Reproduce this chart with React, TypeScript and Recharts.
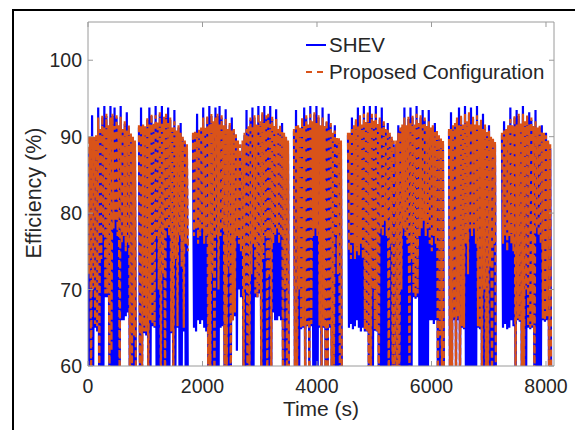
import React from 'react';
import { LineChart, Line, XAxis, YAxis, ReferenceLine } from 'recharts';

// Drive-cycle blocks (seconds)
const blockStart = [0, 890, 1834, 2700, 3598, 4541, 5385, 6306, 7231];
const blockEnd = [856, 1764, 2690, 3528, 4454, 5375, 6236, 7144, 8110];
// trace breaks (white gap) after these blocks
const gapAfter = [true, true, false, true, true, false, true, true, false];

const xTicks = [0, 2000, 4000, 6000, 8000];
const yTicks = [60, 70, 80, 90, 100];

// upper envelope of each oscillation, 24 per block
const propPeak = [
  90, 90, 90, 90, 90.2, 92.5, 91, 92.8, 91.2, 93, 91.5, 92.5, 93, 91.4, 92.8, 91.5, 92.6, 91, 92, 90.8, 91.5, 90.5, 90, 89.5,
  91.5, 91.5, 91.6, 91.4, 92.5, 91.6, 93, 91.8, 92.8, 92, 93.2, 91.8, 92.6, 93, 91.8, 92.5, 91.2, 92, 90.8, 91.5, 90.5, 90, 89.5, 89,
  90.5, 90.8, 90.5, 91, 91.2, 92.5, 91.3, 92.8, 91.6, 93, 92, 92.5, 93, 91.6, 92.8, 91.5, 92.3, 91, 91.8, 90.8, 91, 90.3, 89.5, 89,
  89.5, 90.5, 91, 91.5, 92.5, 91.4, 92.8, 91.6, 93, 92, 93.2, 91.8, 92.8, 93, 91.7, 92.6, 91.5, 92.3, 91, 91.5, 90.6, 90.5, 90, 89.5,
  91, 91.4, 91.5, 91.2, 92.5, 91.4, 92.8, 91.6, 93, 92, 93.2, 91.8, 92.8, 91.5, 92.5, 91.4, 92.2, 91, 91.8, 90.6, 90.8, 90, 89.8, 89.5,
  90.5, 90.5, 91, 91.5, 92.3, 91.4, 92.8, 91.6, 93, 92, 93.2, 91.8, 93, 92.2, 93, 91.8, 92.5, 91.3, 92, 91, 91, 90.5, 90, 89.5,
  89.5, 90.5, 91.2, 91.6, 92.5, 91.5, 92.6, 91.8, 92.8, 91.6, 93, 91.8, 92.8, 91.6, 92.5, 91.4, 92, 91.2, 91.5, 90.6, 90.8, 90.2, 89.8, 89.5,
  91, 91, 91.5, 91.8, 92.5, 91.5, 92.8, 91.6, 93, 92, 93.2, 91.8, 92.6, 91.6, 92.8, 91.5, 92.2, 91, 91.6, 90.6, 90.8, 90, 89.8, 89.3,
  90.5, 90.8, 91, 91.5, 92.3, 91.5, 92.8, 91.6, 93, 91.8, 93, 92, 92.8, 91.6, 92.5, 91.4, 92, 91.2, 91.5, 90.6, 90.5, 90.2, 89.5, 89,
];
const shevPeak = [
  88.5, 89.5, 92.8, 89.7, 89.9, 93.8, 90.7, 92.5, 94, 92.7, 91.2, 94, 92.7, 93.8, 92.5, 91.2, 94, 90.7, 91.7, 93.2, 91.2, 90.2, 89.7, 89,
  91.2, 93.8, 91.3, 91.1, 92.2, 93.8, 92.7, 91.5, 94, 91.7, 92.9, 94, 92.3, 92.7, 93.8, 92.2, 90.9, 93.5, 90.5, 91.2, 91.8, 89.7, 89.2, 88.5,
  90.2, 90.5, 93, 90.7, 90.9, 93.8, 91, 92.5, 94, 92.7, 91.7, 93.8, 92.7, 94, 92.5, 91.2, 93.6, 90.7, 91.5, 92.5, 90.7, 90, 88.5, 87.5,
  89, 90.2, 93.5, 91.2, 92.2, 93.8, 92.5, 91.3, 94, 91.7, 92.9, 94, 92.5, 92.7, 94, 92.3, 91.2, 93.6, 90.7, 91.2, 91.8, 90.2, 89.7, 89.2,
  90.7, 93.5, 91.2, 90.9, 92.2, 93.8, 92.5, 91.3, 94, 91.7, 92.9, 94, 92.5, 91.2, 93.8, 91.1, 91.9, 93, 91.5, 90.3, 91.5, 89.7, 89.5, 89,
  90.2, 90.2, 92.5, 91.2, 92, 93.8, 92.5, 91.3, 94, 91.7, 92.9, 94, 92.7, 91.9, 94, 91.5, 92.2, 93.8, 91.7, 90.7, 91.8, 90.2, 89.7, 89,
  89, 91.5, 90.9, 91.3, 93.8, 91.2, 92.3, 93.8, 92.5, 91.3, 94, 91.5, 92.5, 93.5, 92.2, 91.1, 93.5, 90.9, 91.2, 91.8, 90.5, 89.9, 89.5, 89,
  90.7, 93.2, 91.2, 91.5, 92.2, 93.8, 92.5, 91.3, 94, 91.7, 92.9, 93.8, 92.3, 91.3, 94, 91.2, 91.9, 93, 91.3, 90.3, 91.5, 89.7, 89.5, 89,
  90.2, 92, 90.7, 91.2, 93.8, 91.2, 92.5, 93.5, 92.7, 91.5, 94, 91.7, 92.5, 93.2, 92.2, 91.1, 93.5, 90.9, 91.2, 91.5, 90.2, 90.5, 89.2, 88.5,
];

// lower envelope of each oscillation (values under 60 run off the axis)
const propLow = [
  72, 55, 70, 65.5, 65.2, 55, 74, 77, 69.5, 69.5, 55, 62, 78, 79, 77, 55, 76, 77, 75, 76, 55, 55, 64, 55,
  55, 55, 64.5, 64.5, 55, 66, 65.5, 65.2, 77, 70, 55, 72, 55, 78, 77, 64.5, 55, 74, 65.2, 77, 73, 65, 76, 75,
  77, 78, 76, 77, 78, 76, 77, 55, 55, 72, 55, 77, 70, 77, 78, 55, 55, 73, 55, 66, 67, 77, 76, 75,
  55, 70, 55, 55, 72, 76, 69.5, 69, 70, 55, 74, 77, 55, 72, 55, 76, 77, 78, 76, 77, 55, 70, 55, 55,
  55, 55, 70, 65, 65.2, 55, 65.4, 55, 65.5, 77, 78, 77, 65.3, 55, 65.2, 55, 55, 65.5, 55, 55, 77, 72, 55, 55,
  75, 74, 76, 74, 75, 74.5, 76, 74, 64.8, 64.5, 55, 55, 70, 64.8, 64.6, 55, 78, 77, 79, 77, 55, 76, 55, 55,
  55, 55, 70, 78, 77, 76, 55, 74, 69.5, 69, 69.5, 77, 78, 79, 77, 78, 76, 75, 77, 76, 55, 64, 55, 55,
  55, 55, 66.2, 55, 66.5, 55, 65.2, 65, 76, 72, 78, 77, 78, 76, 65.2, 65, 55, 70, 55, 55, 73, 55, 76, 55,
  76, 77, 75, 77, 76, 75, 55, 66.2, 66, 55, 55, 70, 65.2, 65, 65.3, 55, 78, 77, 76, 66.2, 66, 66.5, 55, 55,
];
const shevLow = [
  55, 55, 55, 65, 64.5, 55, 58, 55, 69, 69, 55, 55, 50, 50, 50, 55, 66, 66, 66.5, 67, 55, 58, 55, 55,
  55, 58, 64.3, 64, 55, 55, 65.2, 65, 55, 55, 55, 56, 55, 50, 50, 64.3, 55, 60, 65, 55, 58, 64.5, 50, 52,
  65, 64.5, 66, 65.5, 66, 65, 64.5, 55, 57, 55, 55, 58, 55, 65, 65.2, 55, 55, 56, 55, 66, 66.5, 62, 70, 69,
  55, 55, 55, 57, 55, 55, 69, 69, 69.5, 55, 55, 55, 58, 56, 55, 67, 66, 66, 66.5, 66, 55, 55, 55, 55,
  55, 57, 55, 64.8, 65, 55, 65.2, 57, 65.2, 55, 50, 50, 65, 55, 65, 55, 56, 65, 55, 57, 55, 56, 55, 55,
  65, 65.5, 64.8, 65.2, 66, 65, 64.5, 65, 64.5, 64.5, 55, 57, 55, 64.6, 64.5, 55, 50, 50, 50, 52, 55, 55, 57, 55,
  55, 57, 55, 50, 52, 50, 55, 56, 69, 68.8, 69, 50, 50, 50, 52, 50, 66, 66, 65.5, 66, 55, 55, 55, 58,
  55, 58, 66, 57, 66, 55, 65, 64.8, 55, 55, 50, 50, 52, 50, 65, 64.8, 55, 56, 55, 57, 55, 55, 58, 55,
  65, 65.5, 64.8, 65, 66, 65.2, 55, 66, 65.8, 55, 57, 55, 65, 64.8, 65, 55, 50, 50, 52, 66, 65.8, 66, 55, 55,
];

const SAMPLES = 24;

type Row = { t: number; shev: number | null; prop: number | null };

const rows: Row[] = [];
blockStart.forEach((start, b) => {
  const step = (blockEnd[b] - start) / SAMPLES;
  for (let i = 0; i < SAMPLES; i++) {
    const k = b * SAMPLES + i;
    rows.push({ t: start + i * step, shev: shevPeak[k], prop: propPeak[k] });
    rows.push({ t: start + (i + 0.5) * step, shev: shevLow[k], prop: propLow[k] });
  }
  if (gapAfter[b]) rows.push({ t: blockEnd[b] + 5, shev: null, prop: null });
});

const W = 575;
const H = 430;
const M = { top: 22, right: 21, bottom: 0, left: 0 };
const Y_W = 88;
const X_H = 64;
const plotLeft = M.left + Y_W;
const plotRight = W - M.right;
const plotTop = M.top;
const plotBottom = H - M.bottom - X_H;

const FONT = '"Liberation Sans", Arial, Helvetica, sans-serif';
const AXIS = '#9a9a9a';
const TEXT = '#262626';
const BLUE = '#0000ff';
const ORANGE = '#d95319';

const XTick = (props: any) => {
  const { x, payload } = props;
  return (
    <g>
      <line x1={x} x2={x} y1={plotBottom} y2={plotBottom - 5} stroke={AXIS} />
      <line x1={x} x2={x} y1={plotTop} y2={plotTop + 5} stroke={AXIS} />
      <text x={x} y={plotBottom + 27} textAnchor="middle" fontSize={19.5} fill={TEXT} fontFamily={FONT}>
        {payload.value}
      </text>
    </g>
  );
};

const YTick = (props: any) => {
  const { y, payload } = props;
  return (
    <g>
      <line x1={plotLeft} x2={plotLeft + 5} y1={y} y2={y} stroke={AXIS} />
      <line x1={plotRight} x2={plotRight - 5} y1={y} y2={y} stroke={AXIS} />
      <text x={plotLeft - 6} y={y + 7} textAnchor="end" fontSize={19.5} fill={TEXT} fontFamily={FONT}>
        {payload.value}
      </text>
    </g>
  );
};

const XLabel = () => (
  <text x={(plotLeft + plotRight) / 2} y={416} textAnchor="middle" fontSize={21} fill={TEXT} fontFamily={FONT}>
    Time (s)
  </text>
);

const YLabel = () => (
  <text
    x={34}
    y={193}
    transform="rotate(-90 34 193)"
    textAnchor="middle"
    dominantBaseline="central"
    fontSize={21.5}
    fill={TEXT}
    fontFamily={FONT}
  >
    Efficiency (%)
  </text>
);

const LegendBox = () => (
  <div style={{ position: 'absolute', left: 305, top: 31, fontFamily: FONT, fontSize: 20.5, color: TEXT }}>
    <div style={{ display: 'flex', alignItems: 'center', height: 27 }}>
      <svg width={22} height={10} style={{ marginRight: 2 }}>
        <line x1={1} x2={21} y1={5} y2={5} stroke={BLUE} strokeWidth={2} />
      </svg>
      <span>SHEV</span>
    </div>
    <div style={{ display: 'flex', alignItems: 'center', height: 27 }}>
      <svg width={22} height={10} style={{ marginRight: 2 }}>
        <line x1={1} x2={21} y1={5} y2={5} stroke={ORANGE} strokeWidth={2} strokeDasharray="6 5" />
      </svg>
      <span>Proposed Configuration</span>
    </div>
  </div>
);

export default function App() {
  return (
    <div style={{ position: 'absolute', left: 0, top: 0, width: W, height: H, background: '#fff' }}>
      <div
        style={{
          position: 'absolute',
          left: 12,
          top: 9,
          width: W - 12,
          height: H - 9,
          borderLeft: '2px solid #000',
          borderTop: '2px solid #000',
        }}
      />
      <LineChart width={W} height={H} data={rows} margin={M} style={{ position: 'absolute', left: 0, top: 0 }}>
        <XAxis
          dataKey="t"
          type="number"
          domain={[0, 8140]}
          ticks={xTicks}
          allowDataOverflow
          height={X_H}
          stroke={AXIS}
          tickLine={false}
          tickSize={0}
          tick={<XTick />}
          label={<XLabel />}
        />
        <YAxis
          type="number"
          domain={[60, 105]}
          ticks={yTicks}
          allowDataOverflow
          width={Y_W}
          stroke={AXIS}
          tickLine={false}
          tickSize={0}
          tick={<YTick />}
          label={<YLabel />}
        />
        <ReferenceLine y={105} stroke={AXIS} />
        <ReferenceLine x={8140} stroke={AXIS} />
        <Line
          type="linear"
          dataKey="shev"
          stroke={BLUE}
          strokeWidth={2.2}
          dot={false}
          activeDot={false}
          isAnimationActive={false}
        />
        <Line
          type="linear"
          dataKey="prop"
          stroke={ORANGE}
          strokeWidth={2.2}
          strokeDasharray="7 3"
          dot={false}
          activeDot={false}
          isAnimationActive={false}
        />
      </LineChart>
      <LegendBox />
    </div>
  );
}
